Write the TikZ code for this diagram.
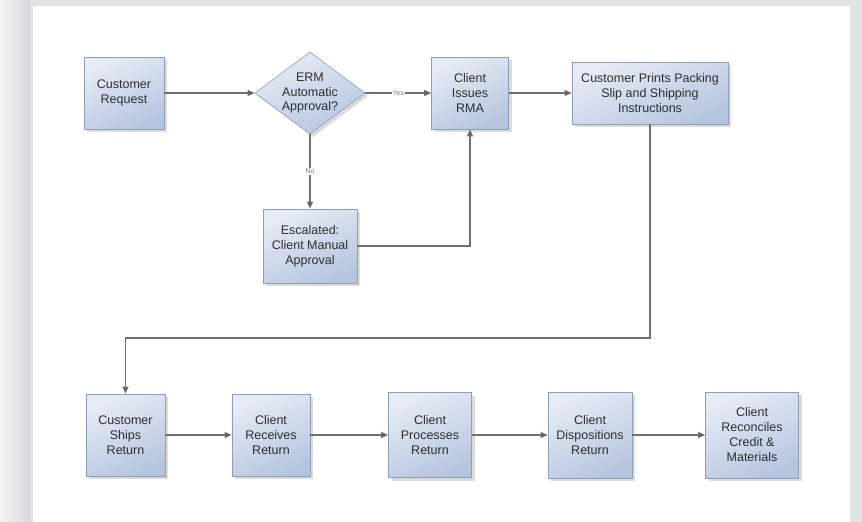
\documentclass[tikz,border=0pt]{standalone}
\usepackage{fontspec}
\setmainfont{Liberation Sans}
\usetikzlibrary{shapes.geometric,shadows,arrows.meta}
\definecolor{bggray}{HTML}{E2E3E5}
\definecolor{bglight}{HTML}{F4F4F5}
\definecolor{boxtop}{HTML}{E6ECF6}
\definecolor{boxbot}{HTML}{B6C5DF}
\definecolor{boxline}{HTML}{8E9DB8}
\definecolor{txt}{HTML}{2E2E2E}
\definecolor{conn}{HTML}{707070}
\definecolor{tipc}{HTML}{555555}
\definecolor{lblc}{HTML}{808080}
\begin{document}
\begin{tikzpicture}[x=1pt,y=-1pt,
  stepbox/.style={rectangle, draw=boxline, line width=0.6pt,
    top color=boxtop, bottom color=boxbot, shading angle=25,
    drop shadow={shadow xshift=3pt, shadow yshift=-3pt, fill=black, opacity=0.14},
    font=\fontsize{12.5}{15}\selectfont, text=txt, align=center, inner sep=2pt},
  decbox/.style={stepbox, diamond, aspect=1.34, inner sep=0pt,
    minimum width=110pt, minimum height=82pt,
    font=\fontsize{12.5}{14.5}\selectfont},
  flow/.style={draw=conn, line width=1.2pt, -{Triangle[length=7pt,width=6pt,fill=tipc]}},
  lbl/.style={font=\fontsize{7}{8}\selectfont, text=lblc, fill=white, inner sep=1pt}
]
\useasboundingbox (0,0) rectangle (862,522);
% background
\fill[bggray] (0,0) rectangle (862,522);
\shade[left color=bglight, right color=bggray!95!black] (0,0) rectangle (30,522);
\fill[white] (33,6) rectangle (850,522);

% top row
\node[stepbox, minimum width=80pt, minimum height=72pt] (req) at (124,93) {Customer\\Request};
\node[decbox] (dec) at (310,93) {ERM\\Automatic\\Approval?};
\node[stepbox, minimum width=77pt, minimum height=72pt] (rma) at (470,93) {Client\\Issues\\RMA};
\node[stepbox, minimum width=156pt, minimum height=62pt] (prt) at (650,93) {Customer Prints Packing\\Slip and Shipping\\Instructions};
\node[stepbox, minimum width=94pt, minimum height=74pt] (esc) at (310,246) {Escalated:\\Client Manual\\Approval};

% bottom row
\node[stepbox, minimum width=79pt, minimum height=82pt] (ship) at (125.5,435) {Customer\\Ships\\Return};
\node[stepbox, minimum width=78pt, minimum height=82pt] (recv) at (271,435) {Client\\Receives\\Return};
\node[stepbox, minimum width=83pt, minimum height=85pt] (proc) at (430,435) {Client\\Processes\\Return};
\node[stepbox, minimum width=84pt, minimum height=86pt] (disp) at (590,435) {Client\\Dispositions\\Return};
\node[stepbox, minimum width=93pt, minimum height=86pt] (reco) at (752,435) {Client\\Reconciles\\Credit \&\\Materials};

% connectors
\draw[flow] (req.east) -- (dec.west);
\draw[flow] (dec.east) -- node[lbl] (yes) {Yes} (rma.west);
\draw[flow] (dec.south) -- node[lbl] (no) {No} (esc.north);
\draw[flow] (esc.east) -| (rma.south);
\draw[flow] (rma.east) -- (prt.west);
\coordinate (bend) at (650,338);
\draw[flow] (prt.south) -- (bend) -| (ship.north);
\draw[flow] (ship.east) -- (recv.west);
\draw[flow] (recv.east) -- (proc.west);
\draw[flow] (proc.east) -- (disp.west);
\draw[flow] (disp.east) -- (reco.west);
\end{tikzpicture}
\end{document}
